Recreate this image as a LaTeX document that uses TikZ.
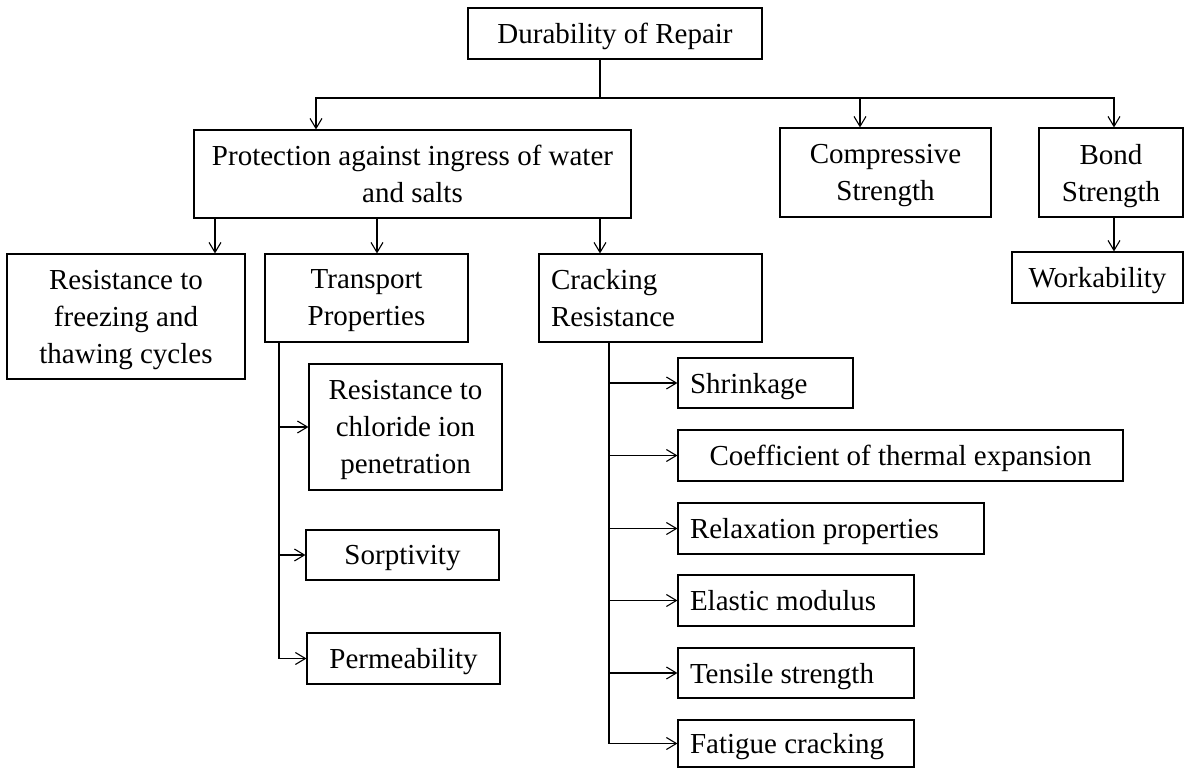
\documentclass[tikz,border=0pt]{standalone}
\usepackage{fontspec}
\setmainfont{Liberation Serif}
\usetikzlibrary{arrows.meta}

\begin{document}
\begin{tikzpicture}[x=1pt,y=-1pt,->,>={Straight Barb[length=10pt,width=12pt]},
  line width=1.1pt,
  box/.style={draw,rectangle,inner xsep=12pt,inner ysep=0pt,align=center,
    text depth=0pt,font=\fontsize{29}{37}\selectfont},
  lbox/.style={box,align=flush left}]
  \useasboundingbox (0,0) rectangle (1185,768);

  % top level
  \node[box, minimum width=294pt, minimum height=51pt] (dur) at (615,33.5) {Durability of Repair};
  \node[box, minimum width=437pt, minimum height=88pt] (prot) at (412.5,174) {Protection against ingress of water\\and salts};
  \node[box, minimum width=211pt, minimum height=89pt] (comp) at (885.5,172.5) {Compressive\\Strength};
  \node[box, minimum width=144pt, minimum height=89pt] (bond) at (1111,172.5) {Bond\\Strength};
  \node[box, minimum width=171pt, minimum height=51pt] (work) at (1097.5,277.5) {Workability};

  % second level
  \node[box, minimum width=238pt, minimum height=125pt] (frz) at (126,316.5) {Resistance to\\freezing and\\thawing cycles};
  \node[box, minimum width=203pt, minimum height=88pt] (trans) at (366.5,298) {Transport\\Properties};
  \node[lbox, text width=199pt, text depth={}, minimum height=88pt] (crack) at (650.5,298) {Cracking\\Resistance};

  % transport properties
  \node[box, minimum width=193pt, minimum height=126pt] (chl) at (405.5,427) {Resistance to\\chloride ion\\penetration};
  \node[box, minimum width=193pt, minimum height=50pt] (sorp) at (402.5,555) {Sorptivity};
  \node[box, minimum width=193pt, minimum height=51pt] (perm) at (403.5,658.5) {Permeability};

  % cracking resistance
  \node[lbox, text width=151pt, minimum height=50pt] (shr) at (765.5,383) {Shrinkage};
  \node[box, minimum width=445pt, minimum height=51pt] (coef) at (900.5,455.5) {Coefficient of thermal expansion};
  \node[lbox, text width=282pt, minimum height=51pt] (relax) at (831,528.5) {Relaxation properties};
  \node[lbox, text width=212pt, minimum height=51pt] (elas) at (796,600.5) {Elastic modulus};
  \node[lbox, text width=212pt, minimum height=50pt] (tens) at (796,673) {Tensile strength};
  \node[lbox, text width=212pt, minimum height=47pt] (fat) at (796,743.5) {Fatigue cracking};

  % guides for the connectors
  \coordinate (hub) at (600,98);
  \coordinate (xp) at (316,0);
  \coordinate (xc) at (860,0);
  \coordinate (xb) at (1114,0);
  \coordinate (xf) at (215,0);
  \coordinate (xt) at (377,0);
  \coordinate (xT) at (279,0);
  \coordinate (xC) at (609,0);

  \draw[-] (dur.south -| hub) -- (hub);
  \draw (hub) -| (prot.north -| xp);
  \draw (hub) -| (comp.north -| xc);
  \draw (hub) -| (bond.north -| xb);
  \draw (bond.south -| xb) -- (work.north -| xb);
  \draw (prot.south -| xf) -- (frz.north -| xf);
  \draw (prot.south -| xt) -- (trans.north -| xt);
  \draw (prot.south -| hub) -- (crack.north -| hub);

  \draw (trans.south -| xT) |- (perm.west);
  \foreach \n in {chl,sorp}
    \draw (\n.west -| xT) -- (\n.west);

  \draw (crack.south -| xC) |- (fat.west);
  \foreach \n in {shr,coef,relax,elas,tens}
    \draw (\n.west -| xC) -- (\n.west);
\end{tikzpicture}
\end{document}
